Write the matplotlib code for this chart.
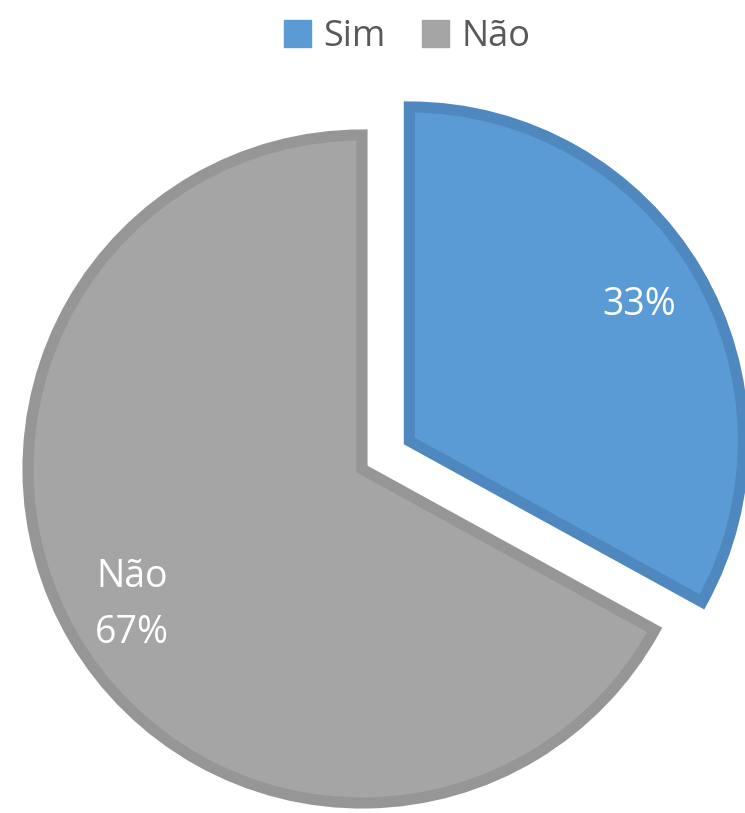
import matplotlib.pyplot as plt
from matplotlib.patches import Patch

# Respostas
categorias = ['Sim', 'Não']
valores = [33, 67]
cores = ['#5B9BD5', '#A5A5A5']
bordas = ['#4F88BF', '#969696']

plt.rcParams['font.family'] = ['Open Sans', 'DejaVu Sans']

W, H = 745, 813
fig = plt.figure(figsize=(W / 100, H / 100), dpi=100)
ax = fig.add_axes([0, 0, 1, 1])

total = sum(valores)
rotulos = []
for cat, v in zip(categorias, valores):
    pct = f'{v / total * 100:.0f}%'
    rotulos.append(pct if cat == 'Sim' else f'{cat}\n{pct}')

# explode aqui vai em unidades de dados (pixels), não em fração do raio
wedges, textos = ax.pie(valores, labels=rotulos, colors=cores,
                        startangle=90, counterclock=False,
                        explode=[55, 0], center=(362, H - 469), radius=334,
                        labeldistance=0.8, frame=True,
                        wedgeprops=dict(linewidth=8),
                        textprops=dict(color='white', fontsize=27,
                                       ha='center', va='center',
                                       linespacing=1.65))
for w, b in zip(wedges, bordas):
    w.set_edgecolor(b)
    w.set_joinstyle('miter')
ax.set_xlim(0, W)
ax.set_ylim(0, H)
ax.set_aspect('equal')
ax.axis('off')

handles = [Patch(facecolor=c, edgecolor=c) for c in cores]
fig.legend(handles, categorias, loc='center', bbox_to_anchor=(407 / W, 1 - 37 / H),
           ncol=2, frameon=False, fontsize=26, handlelength=0.75,
           handleheight=0.75, handletextpad=0.35, columnspacing=1.0,
           labelcolor='#595959')

fig.savefig('out.png', dpi=100)
